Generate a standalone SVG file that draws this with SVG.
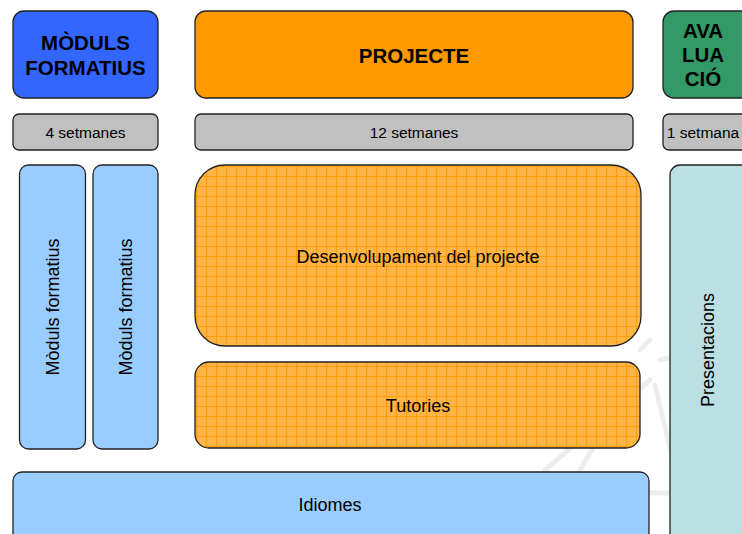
<svg xmlns="http://www.w3.org/2000/svg" width="742" height="534" viewBox="0 0 742 534">
<defs>
<pattern id="grid" width="10" height="10" patternUnits="userSpaceOnUse" x="196" y="166">
<rect width="10" height="10" fill="#FFB446"/>
<path d="M0 0.5 H10 M0.5 0 V10" stroke="#FF9D0A" stroke-width="1.2" fill="none"/>
</pattern>
</defs>
<style>
.b{stroke:#222;stroke-width:1.3}
.t{font-family:"Liberation Sans",Arial,sans-serif;fill:#000;text-anchor:middle}
.h{font-size:20.5px;font-weight:bold}
.s{font-size:15.5px}
.m{font-size:18px}
</style>
<rect width="742" height="534" fill="#fff"/>
<g id="watermark" stroke="#000" stroke-opacity="0.07" stroke-width="5" fill="none" stroke-linecap="round">
<path d="M545 470 L650 380"/>
<path d="M580 470 L615 410"/>
<path d="M655 385 L680 490"/>
<path d="M640 493 L680 493"/>
<path d="M660 360 L680 355"/>
<path d="M640 350 L650 340"/>
</g>
<g id="moduls-header"><rect class="b" x="13" y="11" width="145" height="87" rx="11" fill="#3366FF"/>
<text class="t h" x="85.5" y="50">MÒDULS</text><text class="t h" x="85.5" y="75">FORMATIUS</text></g>
<g id="projecte-header"><rect class="b" x="195" y="11" width="438" height="87" rx="11" fill="#FF9900"/>
<text class="t h" x="414" y="63">PROJECTE</text></g>
<g id="avaluacio-header"><rect class="b" x="663" y="11" width="90" height="87" rx="11" fill="#339966"/>
<text class="t h" x="703" y="38">AVA</text><text class="t h" x="703" y="62">LUA</text><text class="t h" x="703" y="86">CIÓ</text></g>
<g id="setmanes4"><rect class="b" x="13" y="114" width="145" height="36" rx="6" fill="#C0C0C0"/>
<text class="t s" x="85.5" y="137.5">4 setmanes</text></g>
<g id="setmanes12"><rect class="b" x="195" y="114" width="438" height="36" rx="6" fill="#C0C0C0"/>
<text class="t s" x="414" y="137.5">12 setmanes</text></g>
<g id="setmana1"><rect class="b" x="663" y="114" width="90" height="36" rx="6" fill="#C0C0C0"/>
<text class="t s" x="703" y="137.5">1 setmana</text></g>
<g id="moduls1"><rect class="b" x="19.5" y="165" width="66" height="284" rx="9" fill="#99CCFF"/>
<text class="t m" transform="translate(58.5,307) rotate(-90)">Mòduls formatius</text></g>
<g id="moduls2"><rect class="b" x="93" y="165" width="65" height="284" rx="9" fill="#99CCFF"/>
<text class="t m" transform="translate(132,307) rotate(-90)">Mòduls formatius</text></g>
<g id="desenvolupament"><rect class="b" x="195" y="165" width="446" height="181" rx="30" fill="url(#grid)"/>
<text class="t m" x="418" y="263">Desenvolupament del projecte</text></g>
<g id="tutories"><rect class="b" x="195" y="362" width="445" height="86" rx="14" fill="url(#grid)"/>
<text class="t m" x="418" y="412">Tutories</text></g>
<g id="idiomes"><rect class="b" x="13" y="472" width="636" height="80" rx="9" fill="#99CCFF"/>
<text class="t m" x="330" y="511">Idiomes</text></g>
<g id="presentacions"><rect class="b" x="670" y="165" width="90" height="390" rx="10" fill="#BBDFE2"/>
<text class="t m" transform="translate(713.5,350) rotate(-90)">Presentacions</text></g>
<g id="connectors"></g>
</svg>
